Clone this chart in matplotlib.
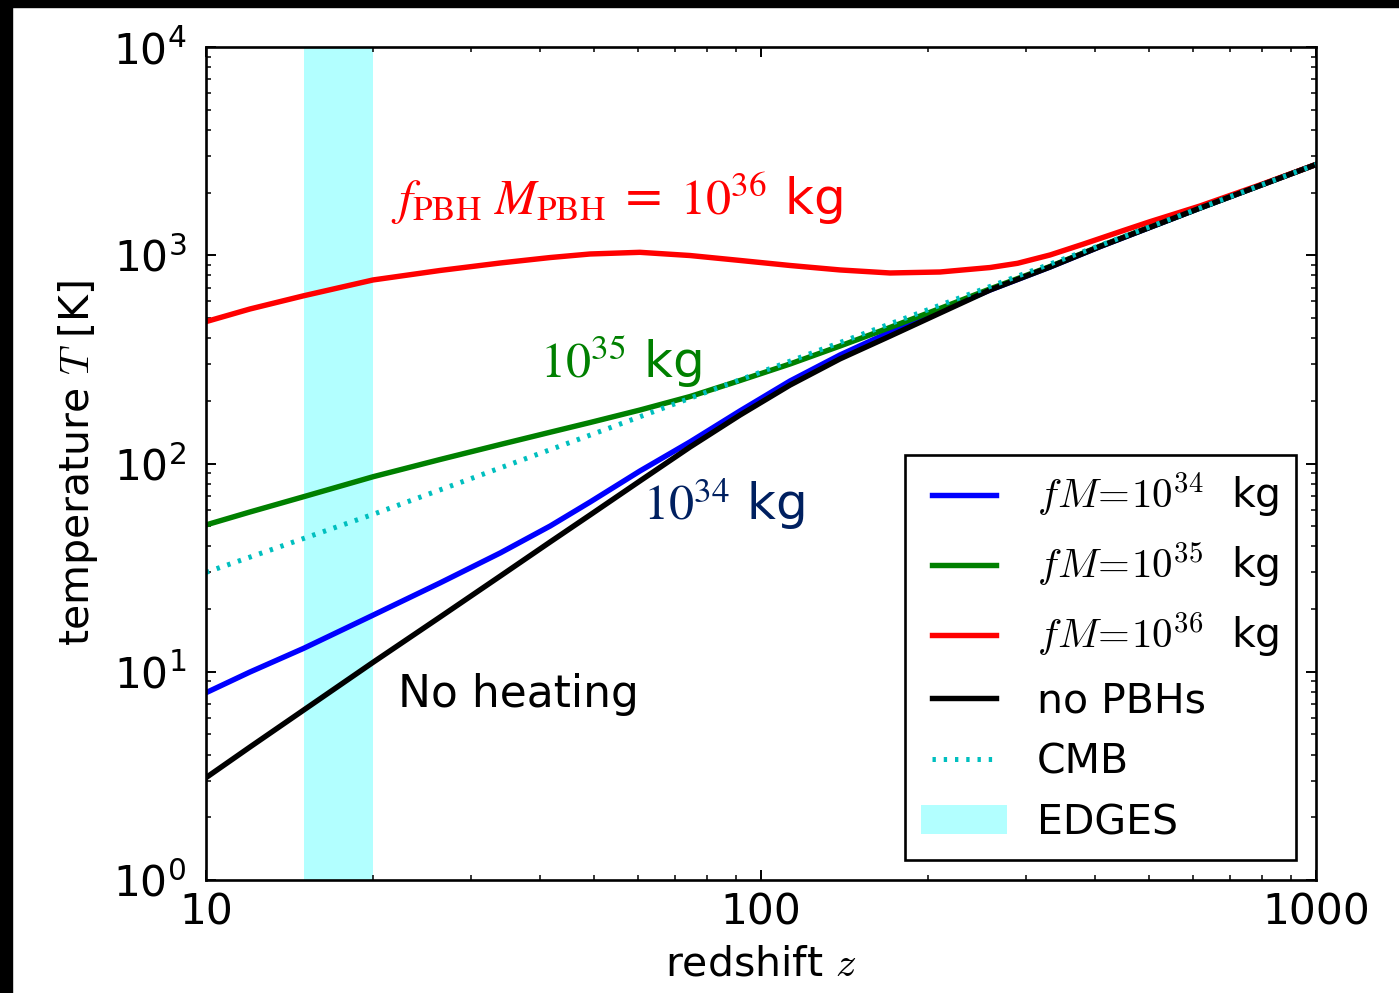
import matplotlib
matplotlib.use('Agg')
import matplotlib.pyplot as plt
import matplotlib.ticker as ticker
from matplotlib.patches import Rectangle, Patch
from matplotlib.lines import Line2D
from matplotlib.legend_handler import HandlerLine2D

plt.rcParams['mathtext.fontset'] = 'cm'
plt.rcParams['font.family'] = ['DejaVu Sans']

# redshift grid and temperatures
z = [10, 12, 15, 20, 26.4, 33.9, 41.7, 49.2, 60.5, 74.5, 91.7, 112.8, 138.8,
     170.8, 210.2, 258.6, 331.7, 408, 618, 1000]

T_none = [3.10, 4.35, 6.55, 11.1, 18.3, 28.8, 42.0, 56.6, 82.4, 120, 171, 238, 318,
          409, 528, 681, 878, 1100, 1685, 2728]
T_34 = [7.93, 9.97, 12.96, 18.7, 26.7, 37.2, 50.1, 65.3, 92.0, 127, 179, 249, 332,
        428, 540, 681, 878, 1100, 1685, 2728]
T_35 = [50.7, 58.5, 69.3, 86.4, 104.5, 123.4, 141.3, 157.3, 180.6, 209.7, 250.4, 300.5,
        366.6, 450, 555, 689, 883, 1105, 1686, 2728]

# the 10^36 kg curve needs a few more points where it bends back onto the CMB
z_36 = [10, 12, 15, 20, 26.4, 33.9, 41.7, 49.2, 60.5, 74.5, 91.7, 112.8, 138.8,
        170.8, 210.2, 258.6, 290, 331.7, 380, 450, 502, 618, 800, 1000]
T_36 = [480, 552, 639, 761, 845, 918, 975, 1014, 1033, 997, 944, 893, 850,
        822, 831, 873, 915, 1003, 1129, 1315, 1449, 1724, 2195, 2728]

z_cmb = [10, 20, 50, 100, 200, 500, 1000]
T_cmb = [30, 57, 139, 275, 548, 1365, 2728]

edges_z = (15, 20)

labels = [r"$fM\!=\!10^{34}$  kg", r"$fM\!=\!10^{35}$  kg", r"$fM\!=\!10^{36}$  kg",
          "no PBHs", "CMB", "EDGES"]

fig = plt.figure(figsize=(13.99, 9.93), dpi=100)
ax = fig.add_axes([206/1399, 113/993, 1110/1399, 833/993])

lw = 3.9
dots = (0, (0.67, 1.58))
ax.axvspan(edges_z[0], edges_z[1], color='cyan', alpha=0.3, lw=0, zorder=0)
ax.plot(z, T_34, color='b', lw=lw)
ax.plot(z, T_35, color='g', lw=lw)
ax.plot(z_36, T_36, color='r', lw=lw)
ax.plot(z, T_none, color='k', lw=lw)
ax.plot(z_cmb, T_cmb, color='c', lw=3.6, linestyle=dots, dash_capstyle='butt')

ax.set_xscale('log')
ax.set_yscale('log')
ax.set_xlim(10, 1000)
ax.set_ylim(1, 1e4)

ax.xaxis.set_major_formatter(ticker.FormatStrFormatter('%d'))
ax.xaxis.set_minor_formatter(ticker.NullFormatter())

for s in ax.spines.values():
    s.set_linewidth(1.9)
ax.tick_params(which='both', direction='in', top=True, right=True, labelsize=30.5)
ax.tick_params(which='major', length=7.5, width=1.4)
ax.tick_params(which='minor', length=3.8, width=1.1)
ax.tick_params(axis='x', which='major', pad=8)
ax.tick_params(axis='y', which='major', pad=14)

ax.set_xlabel(r"redshift $z$", fontsize=29.5, labelpad=8)
ax.set_ylabel(r"temperature $T$ [K]", fontsize=29.5, labelpad=9)

# annotations
ax.text(21.5, 1560, r"$f_\mathrm{PBH}\ M_\mathrm{PBH}$ = $10^{36}$ kg", color='r',
        fontsize=36, math_fontfamily='stix', ha='left', va='baseline')
ax.text(40.0, 257, r"$10^{35}$ kg", color='g', fontsize=36,
        math_fontfamily='stix', ha='left', va='baseline')
ax.text(61.3, 53.5, r"$10^{34}$ kg", color='#002060', fontsize=36,
        math_fontfamily='stix', ha='left', va='baseline')
ax.text(22.2, 6.77, "No heating", color='k', fontsize=31.7, ha='left', va='baseline')

handles = [Line2D([], [], color='b', lw=lw),
           Line2D([], [], color='g', lw=lw),
           Line2D([], [], color='r', lw=lw),
           Line2D([], [], color='k', lw=lw),
           Line2D([], [], color='c', lw=3.6, linestyle=dots, dash_capstyle='butt'),
           Patch(facecolor='cyan', alpha=0.3, lw=0)]
leg = ax.legend(handles, labels, loc='lower right', fontsize=29.5, fancybox=False,
                framealpha=1, edgecolor='k', handlelength=2.1, handletextpad=0.72,
                labelspacing=0.51, borderpad=0.4, borderaxespad=0.5,
                handler_map={Line2D: HandlerLine2D(numpoints=2, marker_pad=0.27)})
leg.get_frame().set_linewidth(1.9)

# black strips along the top and left edges
fig.patches.append(Rectangle((0, 0), 12/1399, 1, transform=fig.transFigure,
                             color='k', zorder=10))
fig.patches.append(Rectangle((0, 1 - 7/993), 1, 7/993, transform=fig.transFigure,
                             color='k', zorder=10))

fig.savefig('out.png', dpi=100)
